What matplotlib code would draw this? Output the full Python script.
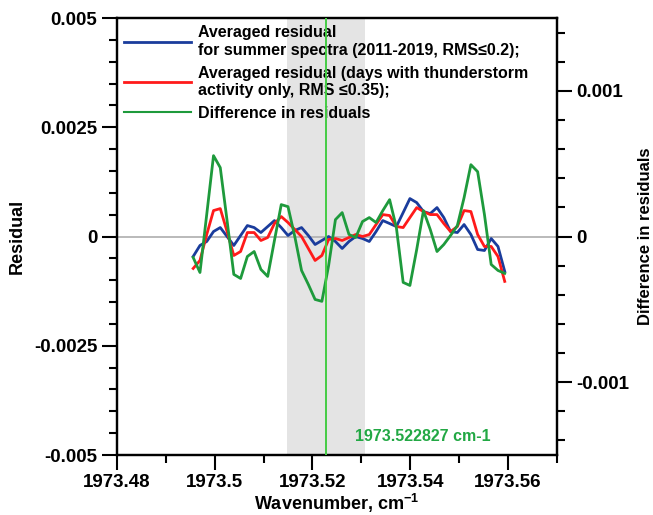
import matplotlib
matplotlib.use("Agg")
from matplotlib import pyplot as plt
from matplotlib.ticker import MultipleLocator
import numpy as np

plt.rcParams['font.family'] = ['Liberation Sans', 'DejaVu Sans']
plt.rcParams['font.weight'] = 'bold'
plt.rcParams['mathtext.fontset'] = 'custom'
plt.rcParams['mathtext.rm'] = 'Liberation Sans:bold'
plt.rcParams['mathtext.bf'] = 'Liberation Sans:bold'

# wavenumber grid, cm-1
wavenumber = [
    1973.49560, 1973.49699, 1973.49837, 1973.49976, 1973.50114, 1973.50253,
    1973.50391, 1973.50530, 1973.50668, 1973.50807, 1973.50945, 1973.51084,
    1973.51222, 1973.51361, 1973.51499, 1973.51638, 1973.51776, 1973.51915,
    1973.52053, 1973.52192, 1973.52330, 1973.52469, 1973.52607, 1973.52746,
    1973.52884, 1973.53023, 1973.53161, 1973.53300, 1973.53438, 1973.53577,
    1973.53715, 1973.53854, 1973.53992, 1973.54131, 1973.54269, 1973.54408,
    1973.54546, 1973.54685, 1973.54823, 1973.54962, 1973.55100, 1973.55239,
    1973.55377, 1973.55516, 1973.55654, 1973.55793, 1973.55931,
]

# averaged residual, summer spectra
resid_summer = [
    -0.000457, -0.000205, -0.000114, 0.000114, 0.000205, 0.0,
    -0.000205, 0.000023, 0.000251, 0.000205, 0.000091, 0.000228,
    0.000365, 0.000205, 0.000023, 0.000137, 0.000205, 0.000023,
    -0.000183, -0.000091, 0.0, -0.000114, -0.000274, -0.000114,
    0.0, -0.000046, -0.000114, 0.000114, 0.000365, 0.000297,
    0.000228, 0.000548, 0.000868, 0.000776, 0.000571, 0.000525,
    0.000662, 0.000434, 0.000114, 0.000091, 0.000274, 0.000046,
    -0.000297, -0.000320, -0.000046, -0.000228, -0.000799,
]

# averaged residual, thunderstorm days
resid_storm = [
    -0.000731, -0.000548, 0.000046, 0.000594, 0.000639, 0.000114,
    -0.000434, -0.000343, 0.000091, 0.000091, -0.000091, -0.000023,
    0.000297, 0.000457, 0.000320, 0.000160, 0.0, -0.000274,
    -0.000548, -0.000434, -0.000068, -0.000046, -0.000091, -0.000023,
    0.000046, 0.0, 0.000046, 0.000274, 0.000502, 0.000480,
    0.000228, 0.000205, 0.000434, 0.000662, 0.000571, 0.000502,
    0.000502, 0.000297, 0.000114, 0.000228, 0.000594, 0.000571,
    0.000046, -0.000228, -0.000228, -0.000457, -0.001027,
]

# difference in residuals (right axis)
resid_diff = [
    -0.000144, -0.000247, 0.000151, 0.000555, 0.000473, 0.000110,
    -0.000260, -0.000288, -0.000137, -0.000103, -0.000226, -0.000274,
    -0.000027, 0.000219, 0.000205, 0.0, -0.000233, -0.000329,
    -0.000432, -0.000445, -0.000199, 0.000116, 0.000164, 0.000014,
    -0.000007, 0.000103, 0.000130, 0.000096, 0.000178, 0.000253,
    0.000062, -0.000315, -0.000336, -0.000089, 0.000178, 0.000048,
    -0.000103, -0.000055, 0.000007, 0.000075, 0.000267, 0.000493,
    0.000445, 0.000151, -0.000192, -0.000233, -0.000253,
]

line_center = 1973.522827
band = (1973.5148, 1973.5308)

left_ticks = [-0.005, -0.0025, 0, 0.0025, 0.005]
left_labels = ['-0.005', '-0.0025', '0', '0.0025', '0.005']
right_ticks = [-0.001, 0, 0.001]
right_labels = ['-0.001', '0', '0.001']
x_ticks = [1973.48, 1973.5, 1973.52, 1973.54, 1973.56]
x_labels = ['1973.48', '1973.5', '1973.52', '1973.54', '1973.56']

fig = plt.figure(figsize=(6.53, 5.15), dpi=100)
ax = fig.add_axes([0.179, 0.1165, 0.674, 0.8485])
ax2 = ax.twinx()

# серая полоса и нулевая линия
ax.axvspan(band[0], band[1], color='#e4e4e4', zorder=0, lw=0)
ax.axhline(0, color='#b4b4b4', lw=1.3, zorder=1)

ax.plot(wavenumber, resid_summer, color='#1a3c9c', lw=2.0, zorder=3,
        label='Averaged residual\nfor summer spectra (2011-2019, RMS\u22640.2);')
ax.plot(wavenumber, resid_storm, color='#ff1a1a', lw=2.0, zorder=3,
        label='Averaged residual (days with thunderstorm\nactivity only, RMS \u22640.35);')
ln, = ax2.plot(wavenumber, resid_diff, color='#1e9a3c', lw=2.0, zorder=3)
ax.plot([], [], color='#1e9a3c', lw=1.5, label='Difference in residuals')

ax2.axvline(line_center, color='#44cc44', lw=1.4, zorder=4)
ax2.text(1973.5287, -0.00137, '1973.522827 cm-1', color='#22a844',
         fontsize=11.5, fontweight='bold', va='center')

ax.set_xlim(1973.48, 1973.57)
ax.set_ylim(-0.005, 0.005)
ax2.set_ylim(-0.0015, 0.0015)

ax.set_xticks(x_ticks)
ax.set_xticklabels(x_labels)
ax.set_yticks(left_ticks)
ax.set_yticklabels(left_labels)
ax2.set_yticks(right_ticks)
ax2.set_yticklabels(right_labels)
ax.xaxis.set_minor_locator(MultipleLocator(0.01))
ax.yaxis.set_minor_locator(MultipleLocator(0.0005))
ax2.yaxis.set_minor_locator(MultipleLocator(0.0002))

for a in (ax, ax2):
    a.tick_params(which='major', direction='out', length=11, width=1.5, labelsize=13.5, pad=3)
    a.tick_params(which='minor', direction='out', length=6, width=1.5)
    for s in a.spines.values():
        s.set_linewidth(1.6)
ax.tick_params(axis='x', which='both', top=False)

ax.set_xlabel('Wavenumber, cm$^{-1}$', fontsize=13, fontweight='bold', labelpad=0.5)
ax.set_ylabel('Residual', fontsize=13, fontweight='bold', labelpad=6)
ax2.set_ylabel('Difference in residuals', fontsize=12, fontweight='bold', labelpad=6)

leg = ax.legend(loc='upper left', frameon=False, fontsize=11.5, handlelength=4.2,
                handletextpad=0.4, borderaxespad=0.35, borderpad=0.1, labelspacing=0.5)
leg.set_zorder(5)

fig.savefig('out.png', dpi=100)
